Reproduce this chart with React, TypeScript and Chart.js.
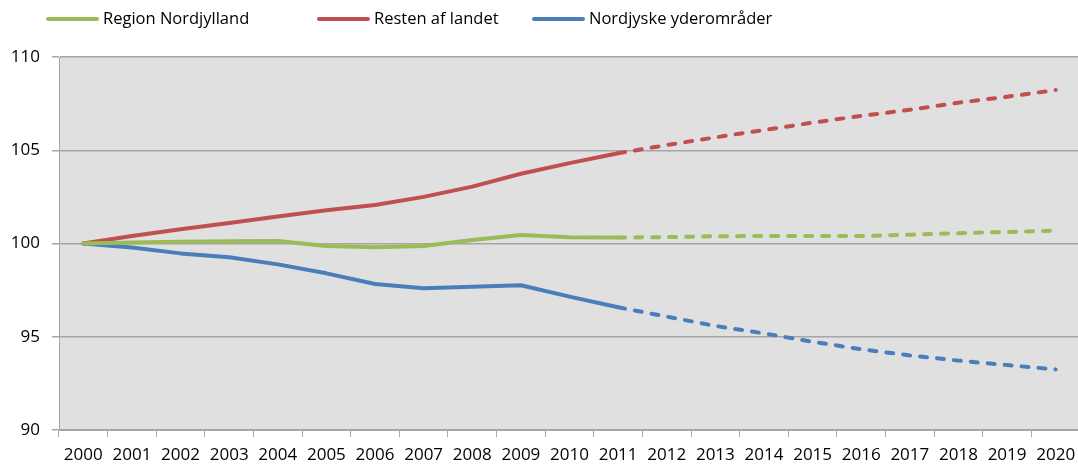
import React, { useEffect, useRef } from "react";
import { Chart, registerables } from "chart.js";

Chart.register(...registerables);

const years = [
  "2000", "2001", "2002", "2003", "2004", "2005", "2006", "2007", "2008", "2009", "2010",
  "2011", "2012", "2013", "2014", "2015", "2016", "2017", "2018", "2019", "2020",
];

const regionNordjylland = [
  100, 100.06, 100.1, 100.12, 100.13, 99.86, 99.8, 99.87, 100.19, 100.46, 100.33,
  100.32, 100.34, 100.39, 100.4, 100.4, 100.4, 100.47, 100.55, 100.62, 100.69,
];

const restenAfLandet = [
  100, 100.4, 100.76, 101.1, 101.45, 101.78, 102.06, 102.5, 103.05, 103.74, 104.31,
  104.84, 105.28, 105.69, 106.08, 106.48, 106.84, 107.17, 107.55, 107.87, 108.23,
];

const nordjyskeYderomraader = [
  100, 99.78, 99.47, 99.26, 98.88, 98.4, 97.83, 97.6, 97.68, 97.76, 97.15,
  96.58, 96.08, 95.58, 95.18, 94.73, 94.33, 94.0, 93.72, 93.48, 93.25,
];

const seriesNames = ["Region Nordjylland", "Resten af landet", "Nordjyske yderområder"];
const seriesColors = ["#9bbb59", "#c0504d", "#4a7ebb"];
const projectionFromYear = "2011";

const yMin = 90;
const yMax = 110;
const yStep = 5;

const FONT = '"Open Sans", "Liberation Sans", sans-serif';

const plotBackground = {
  id: "plotBackground",
  beforeDraw(chart: any) {
    const { ctx, chartArea } = chart;
    ctx.save();
    ctx.fillStyle = "#e0e0e0";
    ctx.fillRect(chartArea.left, chartArea.top, chartArea.right - chartArea.left, chartArea.bottom - chartArea.top);
    ctx.restore();
  },
};

const legendStarts = [46, 317, 532];

const customLegend = {
  id: "customLegend",
  afterDraw(chart: any) {
    const { ctx } = chart;
    chart.data.datasets.forEach((ds: any, i: number) => {
      const x = legendStarts[i];
      const y = 19;
      ctx.save();
      ctx.strokeStyle = ds.borderColor;
      ctx.lineWidth = 4;
      ctx.lineCap = "round";
      ctx.beginPath();
      ctx.moveTo(x + 2, y);
      ctx.lineTo(x + 51, y);
      ctx.stroke();
      ctx.fillStyle = "#000";
      ctx.font = `16.5px ${FONT}`;
      ctx.textBaseline = "middle";
      ctx.textAlign = "left";
      ctx.fillText(ds.label, x + 57, y);
      ctx.restore();
    });
  },
};

export default function App() {
  const canvasRef = useRef<HTMLCanvasElement | null>(null);

  useEffect(() => {
    if (!canvasRef.current) return;
    const projIdx = years.indexOf(projectionFromYear);
    const dashed = (ctx: any) => (ctx.p0DataIndex >= projIdx ? [7, 10] : undefined);
    const values = [regionNordjylland, restenAfLandet, nordjyskeYderomraader];

    const chart = new Chart(canvasRef.current, {
      type: "line",
      data: {
        labels: years,
        datasets: values.map((v, i) => ({
          label: seriesNames[i],
          data: v,
          borderColor: seriesColors[i],
          backgroundColor: seriesColors[i],
          borderWidth: 4,
          borderCapStyle: "round",
          borderJoinStyle: "round",
          pointRadius: 0,
          tension: 0,
          segment: { borderDash: dashed },
        })),
      },
      options: {
        responsive: false,
        animation: false,
        devicePixelRatio: 1,
        layout: { padding: { top: 57, left: 0, right: 0, bottom: 0 } },
        plugins: {
          legend: { display: false },
          tooltip: { enabled: false },
        },
        scales: {
          x: {
            offset: true,
            grid: {
              offset: true,
              drawOnChartArea: false,
              drawTicks: true,
              tickLength: 7,
              color: "#a6a6a6",
            },
            border: { display: true, color: "#a6a6a6" },
            ticks: {
              color: "#000",
              font: { family: FONT, size: 17 },
              padding: 8,
              maxRotation: 0,
              autoSkip: false,
            },
            afterFit: (s: any) => {
              s.height = 35;
              s.paddingLeft = 0;
              s.paddingRight = 0;
            },
          },
          y: {
            min: yMin,
            max: yMax,
            grid: {
              color: "#a6a6a6",
              tickLength: 7,
              lineWidth: 1.5,
            },
            border: { display: true, color: "#a6a6a6" },
            ticks: {
              stepSize: yStep,
              color: "#000",
              font: { family: FONT, size: 17 },
              padding: 12,
            },
            afterFit: (s: any) => {
              s.width = 59;
            },
          },
        },
      },
      plugins: [plotBackground, customLegend],
    });
    return () => chart.destroy();
  }, []);

  return (
    <div style={{ position: "fixed", left: 0, top: 0, width: 1078, height: 465, overflow: "hidden", background: "#fff" }}>
      <canvas ref={canvasRef} width={1080} height={465} />
    </div>
  );
}
